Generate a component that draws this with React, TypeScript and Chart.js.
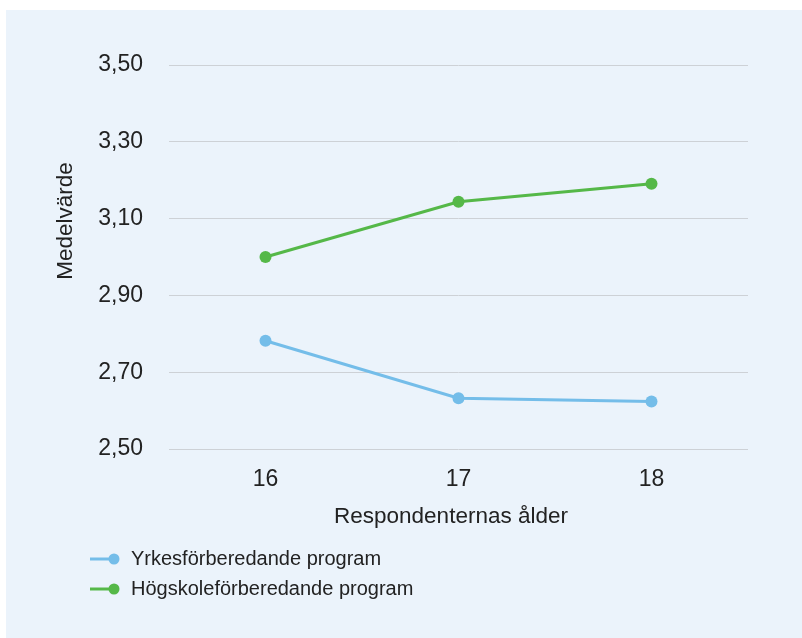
import React, { useEffect, useRef } from "react";
import { Chart, registerables } from "chart.js";

Chart.register(...registerables);

const categories = ["16", "17", "18"];
const seriesNames = ["Yrkesförberedande program", "Högskoleförberedande program"];
const yrkesValues = [2.782, 2.632, 2.624];
const hogskoleValues = [3.0, 3.144, 3.191];
const yTickValues = [2.5, 2.7, 2.9, 3.1, 3.3, 3.5];
const xTitle = "Respondenternas ålder";
const yTitle = "Medelvärde";

const BLUE = "#74bde9";
const GREEN = "#55b848";
const FONT = "'Liberation Sans', Arial, Helvetica, sans-serif";

const textPlugin = {
  id: "customText",
  afterDraw(chart: any) {
    const ctx = chart.ctx;
    const items = chart.data.datasets;
    ctx.save();
    // axis titles
    ctx.fillStyle = "#222";
    ctx.font = `22.5px ${FONT}`;
    ctx.textAlign = "center";
    ctx.textBaseline = "middle";
    ctx.fillText(xTitle, 445, 507);
    ctx.save();
    ctx.translate(60, 211);
    ctx.rotate(-Math.PI / 2);
    ctx.fillText(yTitle, 0, 0);
    ctx.restore();
    // legend
    items.forEach((ds: any, i: number) => {
      const y = 549 + i * 30;
      ctx.strokeStyle = ds.borderColor;
      ctx.lineWidth = 3;
      ctx.beginPath();
      ctx.moveTo(84, y);
      ctx.lineTo(108, y);
      ctx.stroke();
      ctx.fillStyle = ds.borderColor;
      ctx.beginPath();
      ctx.arc(108, y, 5.5, 0, Math.PI * 2);
      ctx.fill();
      ctx.fillStyle = "#222";
      ctx.font = `20px ${FONT}`;
      ctx.textBaseline = "middle";
      ctx.textAlign = "left";
      ctx.fillText(ds.label, 125, y);
    });
    ctx.restore();
  },
};

export default function App() {
  const ref = useRef<HTMLCanvasElement>(null);
  useEffect(() => {
    if (!ref.current) return;
    const chart = new Chart(ref.current, {
      type: "line",
      data: {
        labels: categories,
        datasets: [
          {
            label: seriesNames[0],
            data: yrkesValues,
            borderColor: BLUE,
            backgroundColor: BLUE,
            borderWidth: 3,
            pointRadius: 6,
            pointBackgroundColor: BLUE,
            pointBorderWidth: 0,
            tension: 0,
          },
          {
            label: seriesNames[1],
            data: hogskoleValues,
            borderColor: GREEN,
            backgroundColor: GREEN,
            borderWidth: 3,
            pointRadius: 6,
            pointBackgroundColor: GREEN,
            pointBorderWidth: 0,
            tension: 0,
          },
        ],
      },
      options: {
        animation: false,
        responsive: false,
        maintainAspectRatio: false,
        events: [],
        layout: { padding: { left: 0, right: 54, top: 55, bottom: 99 } },
        plugins: { legend: { display: false }, tooltip: { enabled: false } },
        scales: {
          x: {
            offset: true,
            grid: { display: false, drawTicks: false },
            border: { display: false },
            ticks: { color: "#222", font: { family: FONT, size: 23 }, padding: 17 },
            title: { display: false, text: xTitle },
            afterFit(scale: any) {
              scale.height = 90;
            },
          },
          y: {
            min: 2.5,
            max: 3.5,
            afterBuildTicks(scale: any) {
              scale.ticks = yTickValues.map((v) => ({ value: v }));
            },
            grid: { color: "#cdd1d6", lineWidth: 1, drawTicks: false },
            border: { display: false },
            ticks: {
              color: "#222",
              font: { family: FONT, size: 23 },
              padding: 26,
              callback: (v: any) => Number(v).toFixed(2).replace(".", ","),
            },
            title: { display: false, text: yTitle },
            afterFit(scale: any) {
              scale.width = 163;
            },
          },
        },
      },
      plugins: [textPlugin],
    });
    return () => chart.destroy();
  }, []);
  return (
    <div
      style={{
        position: "absolute",
        left: 6,
        top: 10,
        width: 796,
        height: 628,
        background: "#ebf3fb",
      }}
    >
      <canvas ref={ref} width={796} height={628} style={{ display: "block", width: 796, height: 628 }} />
    </div>
  );
}
